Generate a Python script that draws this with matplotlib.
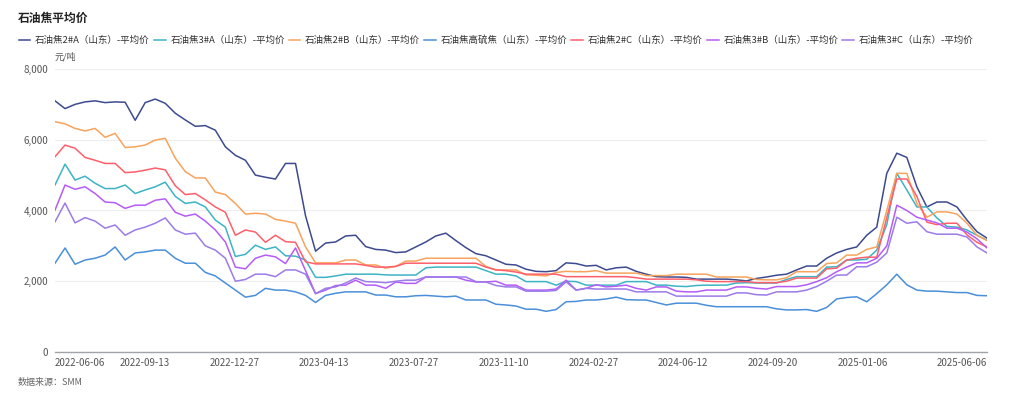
import numpy as np
import matplotlib
matplotlib.use("Agg")
import matplotlib.pyplot as plt
from matplotlib.ticker import FuncFormatter

plt.rcParams['font.family'] = ['Noto Sans CJK SC', 'DejaVu Sans']

# x axis: trading-day categories, labels shown every 75 days plus the last day
n_days = 780
tick_days = [0, 75, 150, 225, 300, 375, 450, 525, 600, 675, 779]
tick_labels = ['2022-06-06', '2022-09-13', '2022-12-27', '2023-04-13', '2023-07-27',
               '2023-11-10', '2024-02-27', '2024-06-12', '2024-09-20', '2025-01-06',
               '2025-06-06']

# prices (yuan/ton) at evenly spaced points along the period
coke_2a = [7100, 6880, 7000, 7070, 7100, 7050, 7070, 7060, 6550, 7050,
           7150, 7030, 6750, 6560, 6380, 6400, 6270, 5800, 5560, 5420,
           5000, 4940, 4890, 5330, 5330, 3850, 2850, 3080, 3110, 3280,
           3300, 2980, 2900, 2880, 2810, 2830, 2970, 3110, 3280, 3360,
           3150, 2950, 2780, 2720, 2600, 2480, 2460, 2340, 2280, 2270,
           2300, 2520, 2500, 2430, 2450, 2320, 2380, 2400, 2280, 2200,
           2130, 2120, 2120, 2110, 2060, 2060, 2060, 2060, 2040, 2010,
           2080, 2120, 2170, 2200, 2320, 2430, 2430, 2650, 2800, 2900,
           2970, 3300, 3530, 5050, 5620, 5500, 4670, 4100, 4240, 4240,
           4100, 3730, 3400, 3220]
coke_3a = [4720, 5310, 4860, 4970, 4770, 4620, 4620, 4720, 4480, 4580,
           4670, 4800, 4400, 4200, 4240, 4100, 3730, 3530, 2700, 2760,
           3020, 2900, 2970, 2720, 2710, 2600, 2110, 2110, 2150, 2200,
           2200, 2200, 2200, 2180, 2175, 2175, 2175, 2380, 2400, 2400,
           2400, 2400, 2400, 2300, 2200, 2200, 2150, 1990, 1990, 1990,
           1890, 2000, 1990, 1890, 1890, 1890, 1890, 1990, 1990, 1990,
           1890, 1890, 1860, 1850, 1880, 1890, 1890, 1890, 1950, 1960,
           1950, 1950, 1950, 2050, 2130, 2130, 2130, 2400, 2410, 2600,
           2600, 2620, 2880, 3600, 5050, 4580, 4100, 4100, 3790, 3550,
           3530, 3450, 3300, 3160]
coke_2b = [6510, 6450, 6320, 6250, 6320, 6070, 6180, 5780, 5800, 5850,
           5990, 6040, 5480, 5100, 4920, 4920, 4520, 4450, 4200, 3900,
           3920, 3900, 3750, 3700, 3640, 2970, 2520, 2520, 2520, 2600,
           2600, 2460, 2460, 2370, 2420, 2570, 2570, 2650, 2650, 2650,
           2650, 2650, 2650, 2420, 2320, 2320, 2320, 2180, 2170, 2150,
           2250, 2280, 2270, 2270, 2300, 2230, 2230, 2230, 2230, 2160,
           2160, 2160, 2200, 2200, 2200, 2200, 2120, 2120, 2120, 2120,
           2050, 2040, 2040, 2100, 2270, 2270, 2270, 2500, 2520, 2740,
           2740, 2900, 2970, 4000, 5050, 5050, 4200, 3810, 3960, 3960,
           3900, 3640, 3300, 3150]
coke_high_s = [2510, 2940, 2480, 2600, 2650, 2740, 2970, 2600, 2800, 2830,
               2880, 2880, 2650, 2510, 2510, 2250, 2150, 1950, 1750, 1550,
               1600, 1800, 1750, 1750, 1700, 1600, 1400, 1600, 1660, 1700,
               1700, 1700, 1610, 1610, 1560, 1560, 1590, 1600, 1580, 1560,
               1580, 1470, 1470, 1470, 1350, 1330, 1300, 1210, 1210, 1150,
               1200, 1420, 1430, 1470, 1470, 1500, 1550, 1480, 1470, 1470,
               1400, 1330, 1380, 1380, 1380, 1320, 1280, 1280, 1280, 1280,
               1280, 1280, 1220, 1190, 1190, 1200, 1150, 1260, 1500, 1540,
               1560, 1420, 1650, 1900, 2200, 1900, 1750, 1720, 1720, 1700,
               1680, 1680, 1600, 1590]
coke_2c = [5520, 5850, 5760, 5500, 5420, 5330, 5330, 5070, 5090, 5140,
           5200, 5150, 4700, 4450, 4480, 4300, 4100, 3950, 3300, 3450,
           3390, 3100, 3300, 3120, 3100, 2550, 2490, 2490, 2490, 2490,
           2490, 2450, 2400, 2400, 2420, 2510, 2510, 2510, 2510, 2510,
           2510, 2510, 2510, 2400, 2320, 2300, 2260, 2200, 2200, 2200,
           2200, 2130, 2130, 2130, 2130, 2130, 2130, 2130, 2100, 2060,
           2060, 2060, 2060, 2060, 2040, 2000, 1990, 1990, 1990, 1990,
           1960, 1960, 1960, 2000, 2090, 2090, 2090, 2350, 2370, 2600,
           2650, 2680, 2680, 3800, 4890, 4890, 4400, 3670, 3600, 3640,
           3640, 3310, 3100, 2970]
coke_3b = [4010, 4720, 4600, 4670, 4480, 4240, 4220, 4060, 4150, 4150,
           4290, 4330, 3950, 3840, 3900, 3700, 3450, 3110, 2400, 2350,
           2650, 2740, 2690, 2500, 2940, 2300, 1650, 1750, 1880, 1890,
           2030, 1890, 1890, 1800, 1980, 1940, 1940, 2120, 2120, 2120,
           2120, 2030, 1980, 1980, 2000, 1890, 1890, 1750, 1750, 1750,
           1780, 2030, 1750, 1800, 1900, 1840, 1860, 1890, 1800, 1750,
           1840, 1840, 1720, 1700, 1700, 1750, 1750, 1750, 1840, 1840,
           1800, 1780, 1850, 1850, 1850, 1900, 1990, 2100, 2270, 2400,
           2520, 2520, 2650, 3000, 4150, 4000, 3810, 3730, 3650, 3500,
           3500, 3390, 3200, 2940]
coke_3c = [3680, 4210, 3650, 3800, 3700, 3500, 3590, 3300, 3450, 3530,
           3640, 3790, 3450, 3330, 3360, 3000, 2880, 2650, 2000, 2050,
           2200, 2200, 2130, 2320, 2320, 2200, 1650, 1800, 1840, 1950,
           2090, 1990, 1980, 1960, 2000, 2030, 2030, 2120, 2120, 2120,
           2120, 2120, 1990, 1980, 1880, 1840, 1840, 1720, 1720, 1720,
           1740, 1980, 1750, 1800, 1780, 1780, 1780, 1780, 1700, 1700,
           1700, 1700, 1580, 1580, 1580, 1580, 1580, 1580, 1670, 1670,
           1620, 1610, 1700, 1700, 1700, 1750, 1850, 2000, 2175, 2175,
           2410, 2410, 2540, 2800, 3810, 3640, 3680, 3400, 3330, 3330,
           3330, 3250, 2970, 2800]

series = [
    ('石油焦2#A（山东）-平均价', coke_2a, '#3d4a8f'),
    ('石油焦3#A（山东）-平均价', coke_3a, '#3cb4c4'),
    ('石油焦2#B（山东）-平均价', coke_2b, '#f7a35c'),
    ('石油焦高硫焦（山东）-平均价', coke_high_s, '#4a8fd9'),
    ('石油焦2#C（山东）-平均价', coke_2c, '#ff5f6b'),
    ('石油焦3#B（山东）-平均价', coke_3b, '#b55cf8'),
    ('石油焦3#C（山东）-平均价', coke_3c, '#9b7be8'),
]

fig = plt.figure(figsize=(10.24, 3.99), dpi=100)
ax = fig.add_axes([55 / 1024, 47 / 399, 932 / 1024, 283 / 399])

for name, vals, color in series:
    x = np.linspace(0, n_days - 1, len(vals))
    ax.plot(x, vals, color=color, lw=1.1, label=name)

ax.set_xlim(0, n_days - 1)
ax.set_ylim(0, 8000)
ax.set_yticks([0, 2000, 4000, 6000, 8000])
ax.yaxis.set_major_formatter(FuncFormatter(lambda v, p: f'{int(v):,}'))
ax.set_xticks(tick_days)
ax.set_xticklabels(tick_labels)
labels = ax.get_xticklabels()
labels[0].set_horizontalalignment('left')
labels[-1].set_horizontalalignment('right')

ax.grid(axis='y', color='#eeeeee', lw=0.8)
ax.set_axisbelow(True)
for s in ['top', 'right', 'left']:
    ax.spines[s].set_visible(False)
ax.spines['bottom'].set_color('#a0a4a8')
ax.spines['bottom'].set_linewidth(1.0)
ax.tick_params(axis='both', length=0, labelsize=7, labelcolor='#555555')
ax.tick_params(axis='x', pad=4)
ax.tick_params(axis='y', pad=5)

fig.text(18 / 1024, 1 - 18 / 399, '石油焦平均价', fontsize=8.5, fontweight='bold',
         color='#222222', va='center', ha='left')
fig.text(55 / 1024, 1 - 57 / 399, '元/吨', fontsize=6.5, color='#555555',
         va='center', ha='left')
fig.text(18 / 1024, 1 - 382 / 399, '数据来源：SMM', fontsize=6.5, color='#666666',
         va='center', ha='left')

fig.legend(loc='center left', bbox_to_anchor=(10 / 1024, 1 - 40 / 399), ncol=7,
           frameon=False, fontsize=6.85, handlelength=1.25, handletextpad=0.5,
           columnspacing=0.4, labelcolor='#333333')

fig.savefig('out.png', dpi=100, facecolor='white')
